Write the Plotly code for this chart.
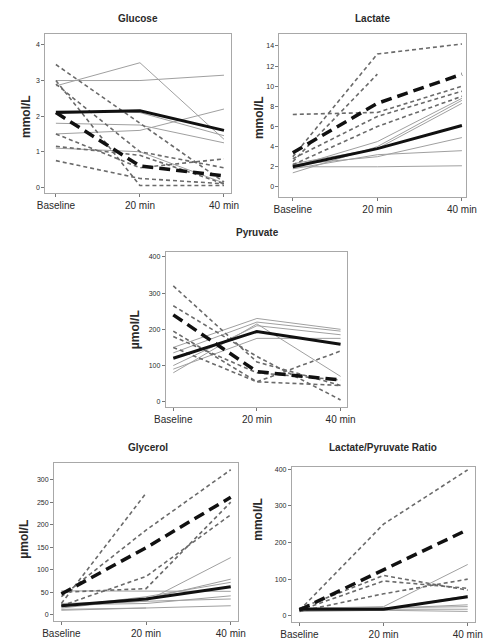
import plotly.graph_objects as go

W, H = 492, 640
TIME = ["Baseline", "20 min", "40 min"]

# ---------------- data ----------------
glucose_solid = [[2.85, 3.5, 1.35], [3.0, 3.0, 3.15], [1.5, 1.6, 2.2],
                 [1.8, 1.75, 1.25], [2.15, 2.1, 1.45], [1.1, 1.0, 0.12]]
glucose_dashed = [[3.45, 1.8, 0.15], [3.0, 0.05, 0.05], [2.9, 1.0, 0.55],
                  [1.5, 0.55, 0.8], [1.15, 0.9, 0.1], [0.75, 0.25, 0.1]]
glucose_mean_solid = [2.1, 2.15, 1.6]
glucose_mean_dashed = [2.1, 0.6, 0.32]

lactate_solid = [[2.0, 2.0, 2.1], [1.8, 3.2, 3.6], [2.2, 3.0, 4.9],
                 [2.3, 3.8, 8.3], [1.4, 4.0, 8.6], [2.0, 4.5, 8.8]]
lactate_dashed = [[3.0, 13.2, 14.2], [7.2, 7.4, 10.0], [2.5, 11.2, None],
                  [2.8, 7.0, 9.5], [2.2, 6.0, 9.0]]
lactate_mean_solid = [2.0, 3.8, 6.1]
lactate_mean_dashed = [3.4, 8.3, 11.2]

pyruvate_solid = [[150, 230, 200], [135, 220, 195], [100, 210, 185],
                  [90, 175, 175], [80, 215, 70]]
pyruvate_dashed = [[320, 110, 45], [265, 125, 5], [195, 55, 140],
                   [180, 80, 60], [150, 55, 45]]
pyruvate_mean_solid = [120, 194, 159]
pyruvate_mean_dashed = [240, 83, 60]

glycerol_solid = [[53, 53, 52], [20, 30, 127], [15, 35, 79], [18, 40, 72],
                  [22, 25, 42], [12, 15, None], [25, 30, 35], [10, 15, 20]]
glycerol_dashed = [[25, 270, None], [40, 188, 322], [20, 85, 222],
                   [50, 58, 250]]
glycerol_mean_solid = [20, 35, 62]
glycerol_mean_dashed = [46, 149, 261]

ratio_solid = [[20, 25, 140], [15, 18, 55], [18, 20, 30], [22, 22, 25],
               [15, 18, 18], [12, 15, 12]]
ratio_dashed = [[15, 250, 398], [20, 110, 70], [15, 95, 75], [12, 60, 100]]
ratio_mean_solid = [18, 18, 52]
ratio_mean_dashed = [16, 125, 235]

# ---------------- panels ----------------
panels = [
    dict(title="Glucose", ylab="mmol/L", solid=glucose_solid, dashed=glucose_dashed,
         ms=glucose_mean_solid, md=glucose_mean_dashed,
         box=(36, 230, 33, 193), yr=[-0.17, 4.31], ytv=[0, 1, 2, 3, 4],
         xr=[-0.125, 2.08], tpos=(133, 18), lpos=(15, 116)),
    dict(title="Lactate", ylab="mmol/L", solid=lactate_solid, dashed=lactate_dashed,
         ms=lactate_mean_solid, md=lactate_mean_dashed,
         box=(281, 476, 33, 197), yr=[-1.04, 15.2], ytv=[0, 2, 4, 6, 8, 10, 12, 14],
         xr=[-0.158, 2.045], tpos=(378, 18), lpos=(259, 117)),
    dict(title="Pyruvate", ylab="µmol/L", solid=pyruvate_solid, dashed=pyruvate_dashed,
         ms=pyruvate_mean_solid, md=pyruvate_mean_dashed,
         box=(162, 352, 252, 407), yr=[-13.8, 413], ytv=[0, 100, 200, 300, 400],
         xr=[-0.09, 2.08], tpos=(258, 232), lpos=(130, 330)),
    dict(title="Glycerol", ylab="µmol/L", solid=glycerol_solid, dashed=glycerol_dashed,
         ms=glycerol_mean_solid, md=glycerol_mean_dashed,
         box=(45, 238, 463, 622), yr=[-14, 338], ytv=[0, 50, 100, 150, 200, 250, 300],
         xr=[-0.087, 2.09], tpos=(143, 448), lpos=(14, 540)),
    dict(title="Lactate/Pyruvate Ratio", ylab="mmol/L", solid=ratio_solid, dashed=ratio_dashed,
         ms=ratio_mean_solid, md=ratio_mean_dashed,
         box=(294, 486, 467, 623), yr=[-17, 407], ytv=[0, 100, 200, 300, 400],
         xr=[-0.09, 2.09], tpos=(389, 448), lpos=(259, 520)),
]

fig = go.Figure()
annotations = []
TXT = "#2a2a2a"
FONT = "Liberation Sans, Arial, sans-serif"

for i, p in enumerate(panels):
    s = "" if i == 0 else str(i + 1)
    xa, ya = "x" + s, "y" + s
    for row in p["solid"]:
        fig.add_trace(go.Scatter(x=TIME, y=row, mode="lines", xaxis=xa, yaxis=ya,
                                 line=dict(color="#a0a0a0", width=1), showlegend=False,
                                 connectgaps=False))
    for row in p["dashed"]:
        fig.add_trace(go.Scatter(x=TIME, y=row, mode="lines", xaxis=xa, yaxis=ya,
                                 line=dict(color="#6a6a6a", width=1.6, dash="4px,3px"),
                                 showlegend=False, connectgaps=False))
    fig.add_trace(go.Scatter(x=TIME, y=p["ms"], mode="lines", xaxis=xa, yaxis=ya,
                             line=dict(color="#111", width=3), showlegend=False))
    fig.add_trace(go.Scatter(x=TIME, y=p["md"], mode="lines", xaxis=xa, yaxis=ya,
                             line=dict(color="#111", width=3.5, dash="11px,6px"),
                             showlegend=False))
    x0, x1, y0, y1 = p["box"]
    common = dict(showline=True, mirror=True, linecolor="#a8a8a8", linewidth=1,
                  ticks="outside", ticklen=3, tickcolor="#777", showgrid=False,
                  zeroline=False)
    fig.update_layout(**{
        "xaxis" + s: dict(domain=[x0 / W, x1 / W], anchor=ya, type="category",
                          range=p["xr"], tickfont=dict(size=10, color=TXT, family=FONT),
                          **common),
        "yaxis" + s: dict(domain=[1 - y1 / H, 1 - y0 / H], anchor=xa, range=p["yr"],
                          tickvals=p["ytv"], tickfont=dict(size=7, color=TXT, family=FONT),
                          **common),
    })
    tx, ty = p["tpos"]
    annotations.append(dict(text="<b>" + p["title"] + "</b>", x=tx / W, y=1 - ty / H,
                            xref="paper", yref="paper", showarrow=False,
                            xanchor="center", yanchor="middle",
                            font=dict(size=10, color=TXT, family=FONT)))
    lx, ly = p["lpos"]
    annotations.append(dict(text="<b>" + p["ylab"] + "</b>", x=lx / W, y=1 - ly / H,
                            xref="paper", yref="paper", showarrow=False, textangle=-90,
                            xanchor="center", yanchor="middle",
                            font=dict(size=12, color=TXT, family=FONT)))

fig.update_layout(width=W, height=H, margin=dict(l=0, r=0, t=0, b=0),
                  paper_bgcolor="white", plot_bgcolor="white",
                  hovermode=False, annotations=annotations)
fig.write_html("out.html", config={"displayModeBar": False, "staticPlot": True},
               post_script="document.body.style.margin='0';")
